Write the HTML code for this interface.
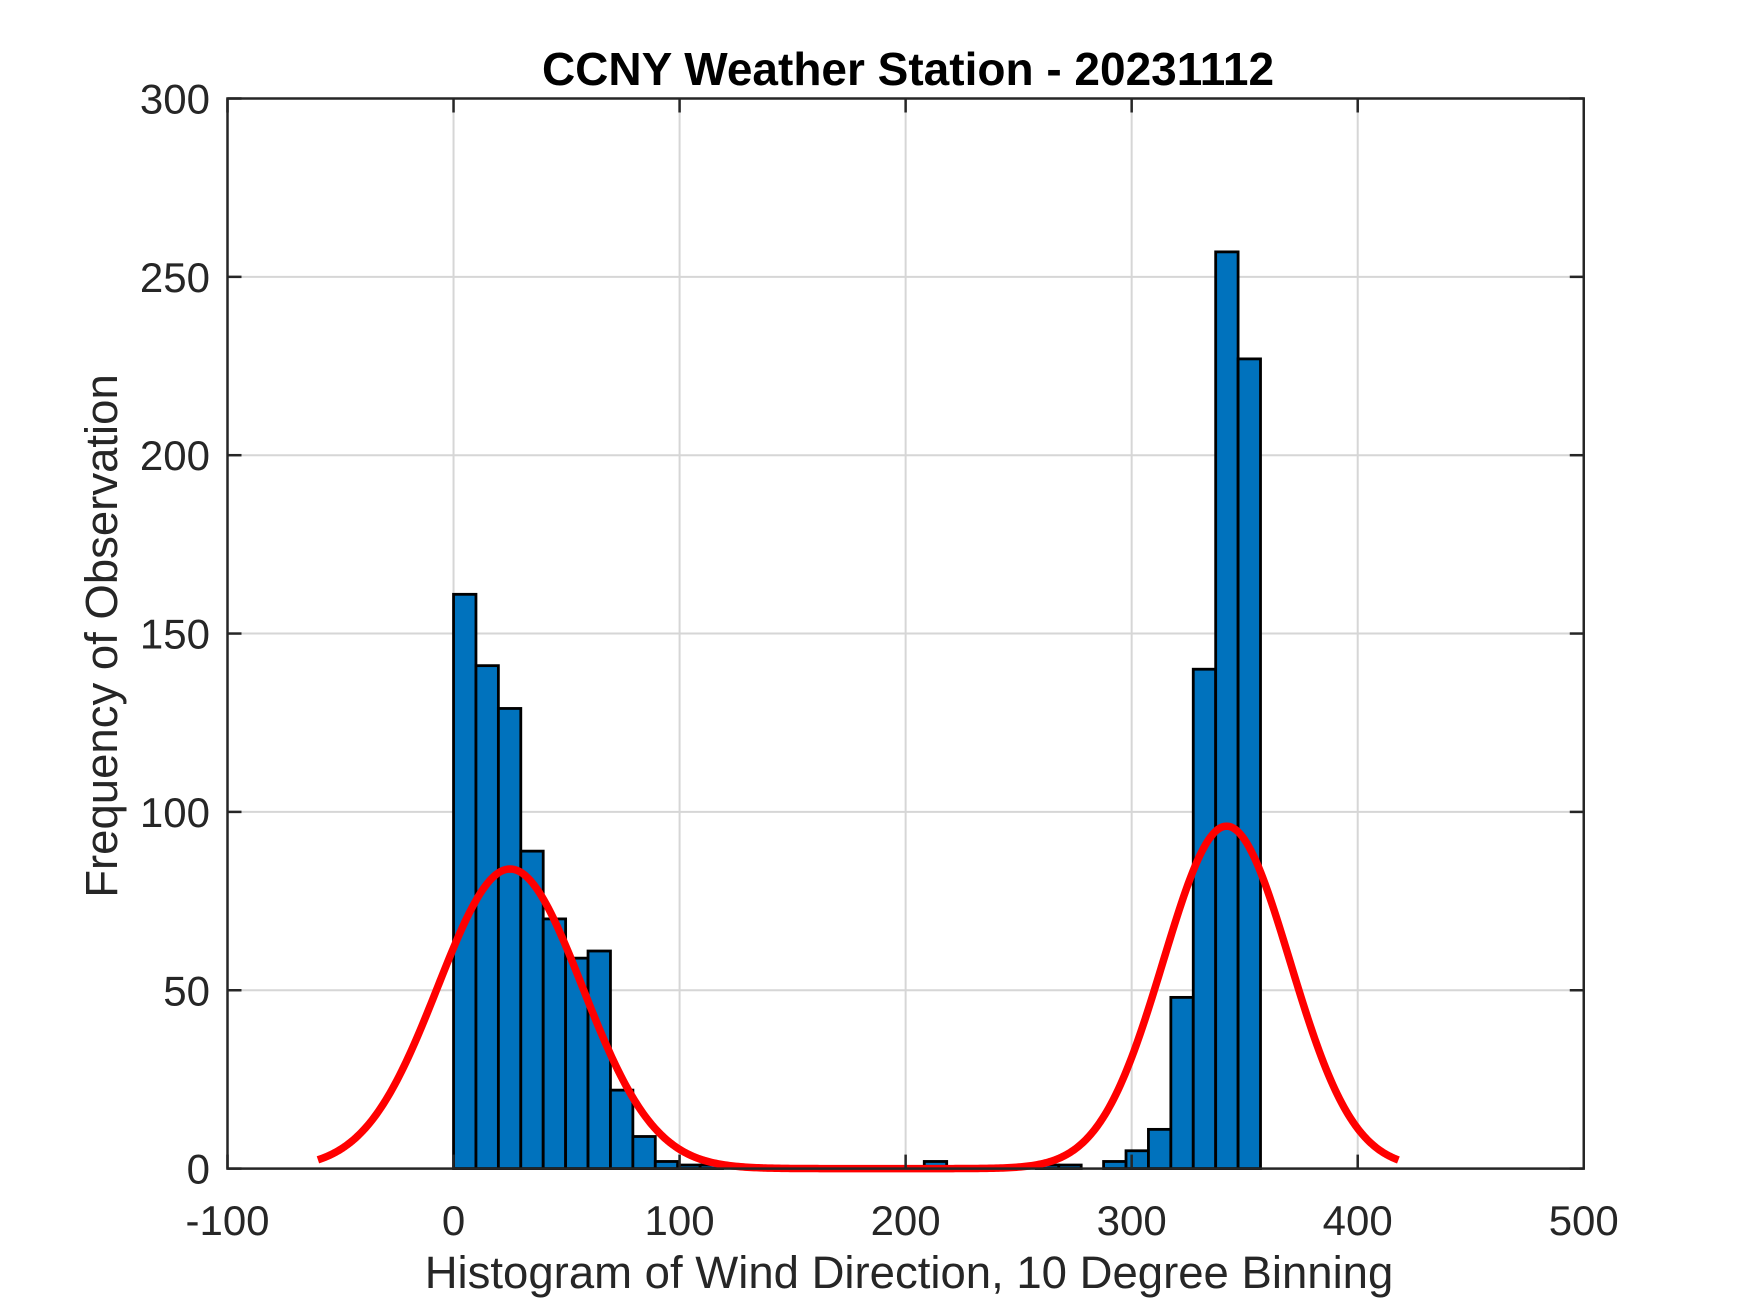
<!DOCTYPE html>
<html><head><meta charset="utf-8"><style>
html,body{margin:0;padding:0;background:#fff;}
svg{display:block;font-family:"Liberation Sans",Arial,sans-serif;}
</style></head><body>
<svg id="chart" width="1750" height="1313" viewBox="0 0 1750 1313">
<rect width="1750" height="1313" fill="#fff"/>
<g id="grid"></g>
<g id="bars"></g>
<g id="curve"></g>
<g id="axes"></g>
<text x="908" y="85" text-anchor="middle" font-size="46" font-weight="bold" fill="#000">CCNY Weather Station - 20231112</text>
<text x="909" y="1288" text-anchor="middle" font-size="45.5" fill="#262626">Histogram of Wind Direction, 10 Degree Binning</text>
<text x="0" y="0" transform="translate(117,636) rotate(-90)" text-anchor="middle" font-size="45.5" fill="#262626">Frequency of Observation</text>
</svg>
<script>
const binIndex = [0,1,2,3,4,5,6,7,8,9,10,11,21,26,27,29,30,31,32,33,34,35];
const binCounts = [161,141,129,89,70,59,61,22,9,2,1,1,2,1,1,2,5,11,48,140,257,227];
const binWidth = 357/36;
const xTicks = [-100,0,100,200,300,400,500];
const yTicks = [0,50,100,150,200,250,300];
const fitCenters = [25,342];
const fitAmps = [84,96];
const fitSigmas = [32,28];
const fitRange = [-60,418];

const L=227.5,R=1583.75,T=98.5,B=1168.6;
const xMin=-100,xMax=500,yMin=0,yMax=300;
const sx=v=>L+(v-xMin)/(xMax-xMin)*(R-L);
const sy=v=>B-(v-yMin)/(yMax-yMin)*(B-T);
const NS='http://www.w3.org/2000/svg';
function mk(tag,attrs,parent){const e=document.createElementNS(NS,tag);for(const k in attrs)e.setAttribute(k,attrs[k]);parent.appendChild(e);return e;}
const grid=document.getElementById('grid'),bars=document.getElementById('bars'),curve=document.getElementById('curve'),axes=document.getElementById('axes');

xTicks.forEach(t=>{const l=mk('line',{x1:sx(t),x2:sx(t),y1:T,y2:B,stroke:'#d6d6d6','stroke-width':2},grid);

});
yTicks.forEach(t=>{const l=mk('line',{x1:L,x2:R,y1:sy(t),y2:sy(t),stroke:'#d6d6d6','stroke-width':2},grid);

});

binIndex.forEach((k,i)=>{const s=k*binWidth;const x0=sx(s),x1=sx(s+binWidth),y=sy(binCounts[i]);
const r=mk('rect',{x:x0,y:y,width:x1-x0,height:B-y,fill:'#0072BD',stroke:'#000','stroke-width':2.8},bars);

});

let d='';
for(let x=fitRange[0];x<=fitRange[1];x+=1){let v=0;for(let k=0;k<fitCenters.length;k++){v+=fitAmps[k]*Math.exp(-Math.pow(x-fitCenters[k],2)/(2*fitSigmas[k]*fitSigmas[k]));}
d+=(d?'L':'M')+sx(x).toFixed(2)+','+sy(v).toFixed(2);}
const p=mk('path',{d:d,fill:'none',stroke:'#ff0000','stroke-width':7.5,'stroke-linejoin':'round'},curve);



const box=mk('rect',{x:L,y:T,width:R-L,height:B-T,fill:'none',stroke:'#262626','stroke-width':2.5},axes);


const tl=14;
xTicks.forEach(t=>{const x=sx(t);
const a=mk('line',{x1:x,x2:x,y1:B,y2:B-tl,stroke:'#262626','stroke-width':2.5},axes);


const b=mk('line',{x1:x,x2:x,y1:T,y2:T+tl,stroke:'#262626','stroke-width':2.5},axes);


const tx=mk('text',{x:x,y:1235,'text-anchor':'middle','font-size':42,fill:'#262626'},axes);tx.textContent=t;

});
yTicks.forEach(t=>{const y=sy(t);
const a=mk('line',{x1:L,x2:L+tl,y1:y,y2:y,stroke:'#262626','stroke-width':2.5},axes);


const b=mk('line',{x1:R,x2:R-tl,y1:y,y2:y,stroke:'#262626','stroke-width':2.5},axes);


const tx=mk('text',{x:210,y:y+15,'text-anchor':'end','font-size':42,fill:'#262626'},axes);tx.textContent=t;

});
</script>
</body></html>
